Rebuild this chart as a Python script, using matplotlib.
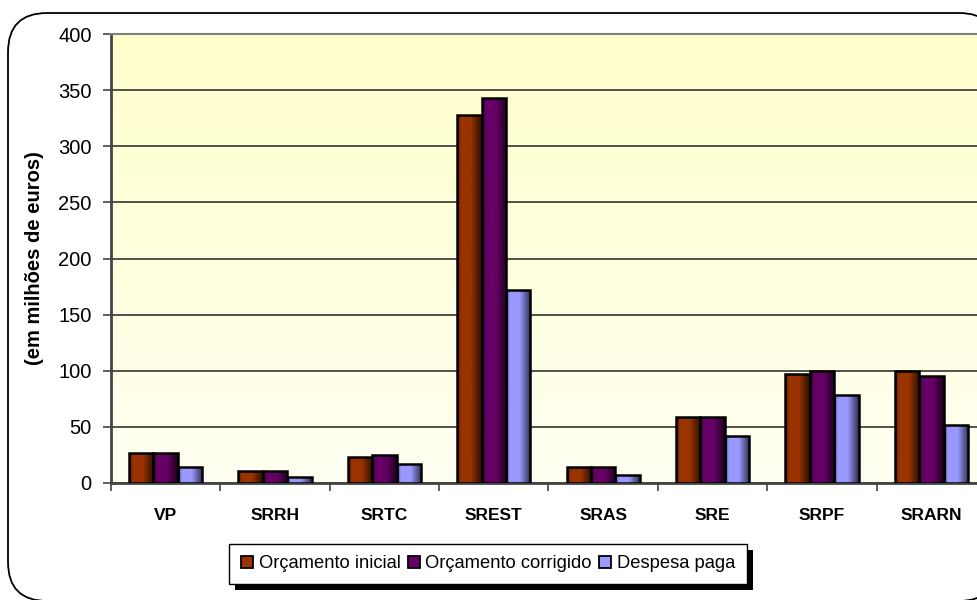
import numpy as np
import matplotlib.pyplot as plt
from matplotlib.colors import LinearSegmentedColormap, to_rgb
from matplotlib.patches import FancyBboxPatch, Rectangle, Patch

plt.rcParams['font.family'] = ['Liberation Sans', 'DejaVu Sans']

categories = ['VP', 'SRRH', 'SRTC', 'SREST', 'SRAS', 'SRE', 'SRPF', 'SRARN']
orcamento_inicial = [26.5, 11, 23, 328, 14, 59, 97, 100]
orcamento_corrigido = [26.5, 11, 24.5, 343, 14, 59, 100, 95.5]
despesa_paga = [14, 5.5, 17, 172, 7.5, 42, 78, 52]

series_names = ['Orçamento inicial', 'Orçamento corrigido', 'Despesa paga']
series_colors = ['#993300', '#660066', '#9999FF']
yticks = [0, 50, 100, 150, 200, 250, 300, 350, 400]

fig = plt.figure(figsize=(9.78, 6), dpi=100)

# rounded chart border
border = FancyBboxPatch((8 / 978, -1 / 600), 990 / 978, 588 / 600,
                        boxstyle="round,pad=0,rounding_size=0.04",
                        transform=fig.transFigure, facecolor='white',
                        edgecolor='black', linewidth=1.3, zorder=-10,
                        mutation_aspect=978 / 600)
fig.patches.append(border)

ax = fig.add_axes([111 / 978, 117 / 600, 875 / 978, 449 / 600])
ax.set_facecolor('none')

# plot area gradient
grad = np.linspace(0, 1, 256).reshape(-1, 1)
bg = LinearSegmentedColormap.from_list('bg', ['#FFFFF2', '#FFFFCC'])
ax.imshow(grad, cmap=bg, aspect='auto', origin='lower',
          extent=[-0.5, 7.5, 0, 400], zorder=0)

x = np.arange(len(categories))
w = 0.223
for k, (vals, col) in enumerate(zip([orcamento_inicial, orcamento_corrigido, despesa_paga], series_colors)):
    base = np.array(to_rgb(col))
    cmap = LinearSegmentedColormap.from_list(
        'b%d' % k, [(0, base * 0.45), (0.15, base), (0.55, base), (1, base * 0.3)])
    bars = ax.bar(x + (k - 1) * w, vals, width=w, facecolor='none',
                  edgecolor='black', linewidth=1.8, zorder=3)
    for b in bars:
        x0, y0 = b.get_x(), b.get_y()
        im = ax.imshow(np.linspace(0, 1, 64).reshape(1, -1), cmap=cmap,
                       aspect='auto', extent=[x0, x0 + b.get_width(), y0, y0 + b.get_height()],
                       zorder=2.9)
        im.set_clip_path(b)

ax.set_xlim(-0.5, 7.5)
ax.set_ylim(0, 400)
ax.set_yticks(yticks)
ax.yaxis.grid(True, color='#333333', linewidth=1.2, zorder=1)
ax.set_axisbelow(True)
ax.tick_params(axis='y', direction='out', length=6, width=1.2, color='#444444',
               labelsize=14.5, pad=8)
ax.set_xticks(x)
ax.set_xticklabels(categories, fontsize=12.5, fontweight='bold')
ax.set_xticks(np.arange(-0.5, 8, 1), minor=True)
ax.tick_params(axis='x', which='major', length=0, pad=18)
ax.tick_params(axis='x', which='minor', direction='out', length=6, width=1.2, color='#444444')

for s in ['left', 'bottom']:
    ax.spines[s].set_color('#444444')
    ax.spines[s].set_linewidth(2)
ax.spines['top'].set_color('#808080')
ax.spines['top'].set_linewidth(1.5)
ax.spines['right'].set_visible(False)

ax.set_ylabel('(em milhões de euros)', fontsize=14.5, fontweight='bold')
ax.yaxis.set_label_coords(-67 / 875, 0.5)

handles = [Patch(facecolor=c, edgecolor='black', linewidth=1.3) for c in series_colors]
leg = fig.legend(handles, series_names, loc='center', bbox_to_anchor=(488 / 978, 1 - 564 / 600),
                 ncol=3, fontsize=13.2, frameon=True, fancybox=False, edgecolor='black',
                 framealpha=1, handlelength=0.65, handleheight=0.65, handletextpad=0.3,
                 columnspacing=0.4, borderpad=0.65, borderaxespad=0)
leg.get_frame().set_linewidth(1.0)

fig.canvas.draw()
bb = leg.get_window_extent().transformed(fig.transFigure.inverted())
shadow = Rectangle((bb.x0 + 6 / 978, bb.y0 - 6 / 600), bb.width, bb.height,
                   transform=fig.transFigure, facecolor='black', edgecolor='none', zorder=-1)
fig.patches.append(shadow)

fig.savefig('out.png', dpi=100)
